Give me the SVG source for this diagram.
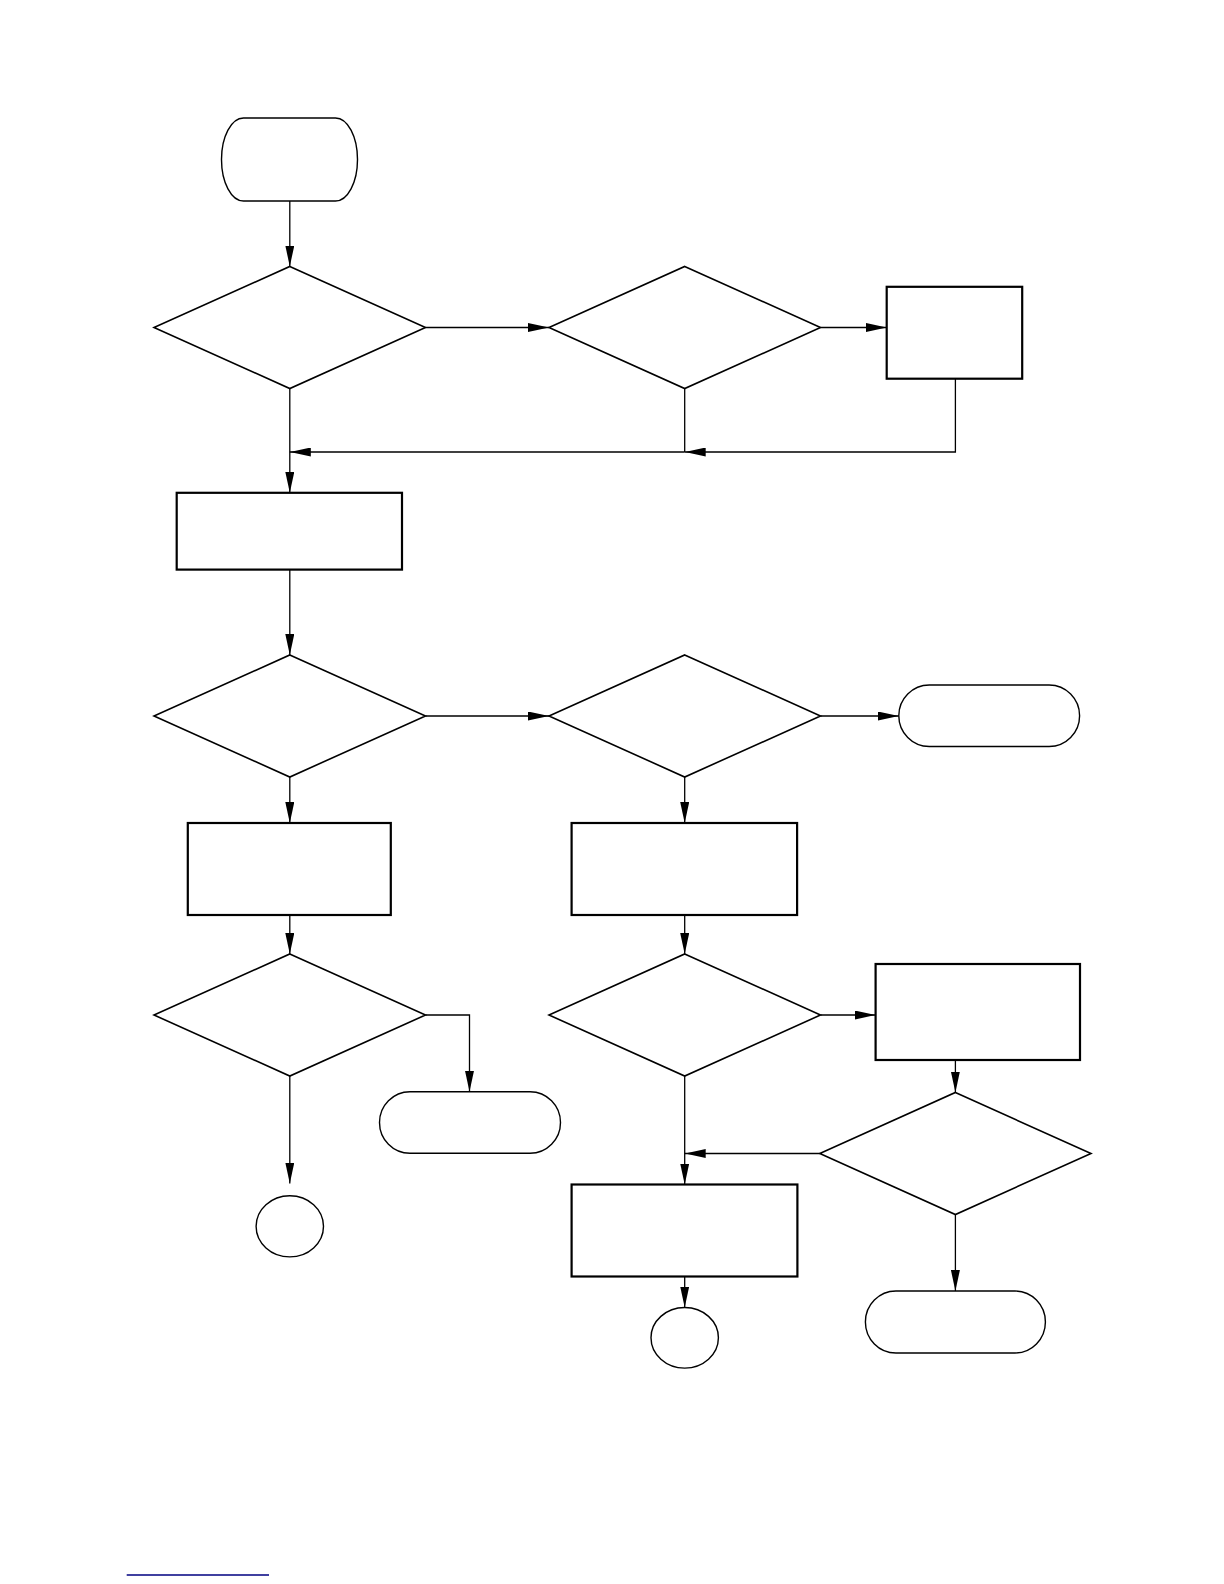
<svg xmlns="http://www.w3.org/2000/svg" width="1224" height="1584" viewBox="0 0 1224 1584">
<style>
.dec{fill:#fff;stroke:#000;stroke-width:1.6}
.proc{fill:#fff;stroke:#000;stroke-width:2.2}
.term{fill:#fff;stroke:#000;stroke-width:1.4}
.con{fill:none;stroke:#000;stroke-width:1.3}
</style>
<defs>
<marker id="ah" markerUnits="userSpaceOnUse" markerWidth="21" markerHeight="9" refX="21" refY="4.5" orient="auto">
<path d="M0,0 L21,4.5 L0,9 z" fill="#000"/>
</marker>
</defs>
<rect width="1224" height="1584" fill="#fff"/>
<g id="connectors">
<line class="con" x1="289.8" y1="201" x2="289.8" y2="266.5" marker-end="url(#ah)"/>
<line class="con" x1="425.5" y1="327.5" x2="549" y2="327.5" marker-end="url(#ah)"/>
<line class="con" x1="820.5" y1="327.5" x2="886.7" y2="327.5" marker-end="url(#ah)"/>
<polyline class="con" points="955.4,378.7 955.4,452 684.7,452" marker-end="url(#ah)"/>
<line class="con" x1="684.7" y1="388.5" x2="684.7" y2="452"/>
<line class="con" x1="684.7" y1="452" x2="289.8" y2="452" marker-end="url(#ah)"/>
<line class="con" x1="289.8" y1="388.5" x2="289.8" y2="492.8" marker-end="url(#ah)"/>
<line class="con" x1="289.8" y1="569.6" x2="289.8" y2="655" marker-end="url(#ah)"/>
<line class="con" x1="425.5" y1="716" x2="549" y2="716" marker-end="url(#ah)"/>
<line class="con" x1="820.5" y1="716" x2="898.8" y2="716" marker-end="url(#ah)"/>
<line class="con" x1="289.8" y1="777" x2="289.8" y2="823" marker-end="url(#ah)"/>
<line class="con" x1="684.7" y1="777" x2="684.7" y2="823" marker-end="url(#ah)"/>
<line class="con" x1="289.8" y1="915" x2="289.8" y2="954" marker-end="url(#ah)"/>
<line class="con" x1="684.7" y1="915" x2="684.7" y2="954" marker-end="url(#ah)"/>
<polyline class="con" points="425.5,1015 469.5,1015 469.5,1091.7" marker-end="url(#ah)"/>
<line class="con" x1="289.8" y1="1076" x2="289.8" y2="1183.5" marker-end="url(#ah)"/>
<line class="con" x1="820.5" y1="1015" x2="875.6" y2="1015" marker-end="url(#ah)"/>
<line class="con" x1="684.7" y1="1076" x2="684.7" y2="1184.5" marker-end="url(#ah)"/>
<line class="con" x1="955.4" y1="1060" x2="955.4" y2="1092.5" marker-end="url(#ah)"/>
<line class="con" x1="819.8" y1="1153.5" x2="684.7" y2="1153.5" marker-end="url(#ah)"/>
<line class="con" x1="955.4" y1="1214.5" x2="955.4" y2="1291" marker-end="url(#ah)"/>
<line class="con" x1="684.7" y1="1276.5" x2="684.7" y2="1307.5" marker-end="url(#ah)"/>
</g>
<g id="start"><rect class="term" x="221.5" y="118" width="136" height="83" rx="22" ry="41.5"/></g>
<g id="d1"><polygon class="dec" points="289.8,266.5 425.5,327.5 289.8,388.5 154,327.5"/></g>
<g id="d2"><polygon class="dec" points="684.7,266.5 820.5,327.5 684.7,388.5 549,327.5"/></g>
<g id="r1"><rect class="proc" x="886.7" y="286.8" width="135.5" height="91.9"/></g>
<g id="r2"><rect class="proc" x="176.7" y="492.8" width="225.3" height="76.8"/></g>
<g id="d3"><polygon class="dec" points="289.8,655 425.5,716 289.8,777 154,716"/></g>
<g id="d4"><polygon class="dec" points="684.7,655 820.5,716 684.7,777 549,716"/></g>
<g id="t2"><rect class="term" x="898.8" y="685" width="180.8" height="61.5" rx="30.5" ry="30.75"/></g>
<g id="r3"><rect class="proc" x="187.8" y="823" width="203" height="92"/></g>
<g id="r4"><rect class="proc" x="571.6" y="823" width="225.5" height="92"/></g>
<g id="d5"><polygon class="dec" points="289.8,954 425.5,1015 289.8,1076 154,1015"/></g>
<g id="d6"><polygon class="dec" points="684.7,954 820.5,1015 684.7,1076 549,1015"/></g>
<g id="r5"><rect class="proc" x="875.6" y="964" width="204.4" height="96"/></g>
<g id="t3"><rect class="term" x="379.5" y="1091.7" width="181" height="61.6" rx="30.5" ry="30.8"/></g>
<g id="c1"><ellipse class="term" cx="289.8" cy="1226.3" rx="33.7" ry="30.6"/></g>
<g id="d7"><polygon class="dec" points="955.4,1092.5 1091,1153.5 955.4,1214.5 819.8,1153.5"/></g>
<g id="r6"><rect class="proc" x="571.6" y="1184.5" width="225.8" height="92"/></g>
<g id="c2"><ellipse class="term" cx="684.7" cy="1337.8" rx="33.7" ry="30.3"/></g>
<g id="t4"><rect class="term" x="865.4" y="1291" width="180" height="62" rx="30.5" ry="31"/></g>
<line x1="126.7" y1="1575" x2="269" y2="1575" stroke="#000080" stroke-width="1.6"/>
</svg>
